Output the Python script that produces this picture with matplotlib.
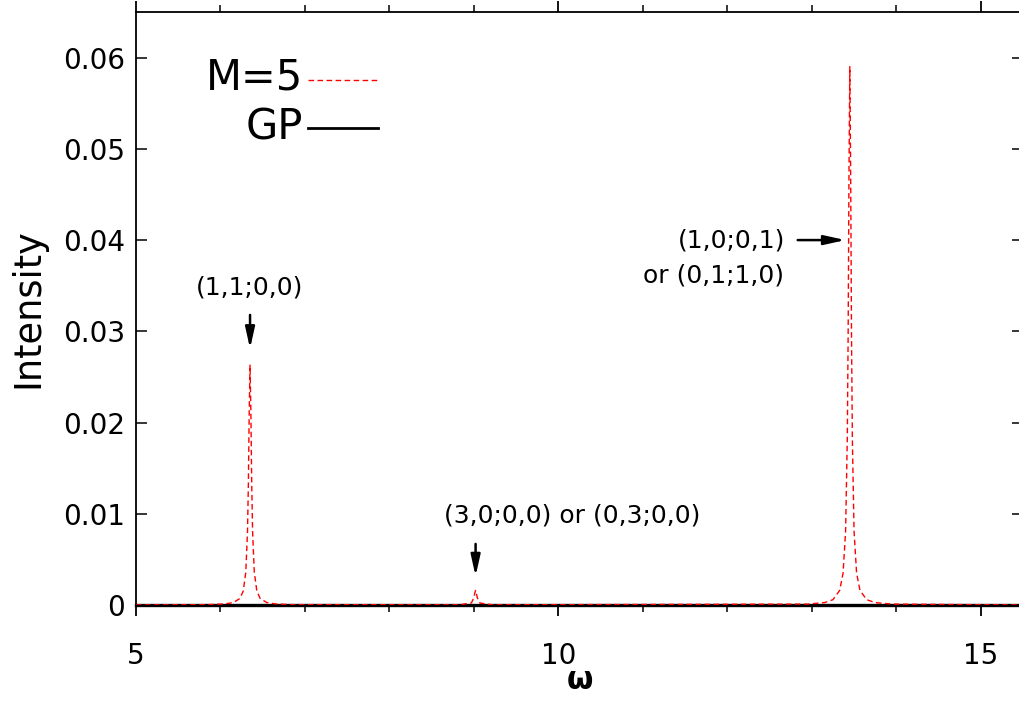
import matplotlib
matplotlib.use('Agg')
import matplotlib.pyplot as plt

# M=5 spectrum, sampled by eye around the three peaks
omega_m5 = [5.0, 5.85, 6.05, 6.15, 6.23, 6.27, 6.30, 6.32, 6.33, 6.34, 6.35,
            6.36, 6.37, 6.38, 6.40, 6.43, 6.47, 6.55, 6.65, 6.85,
            8.82, 8.97, 9.00, 9.01, 9.02, 9.03, 9.04, 9.07, 9.22,
            12.95, 13.15, 13.25, 13.33, 13.37, 13.40, 13.42, 13.43, 13.44, 13.45,
            13.46, 13.47, 13.48, 13.50, 13.53, 13.57, 13.65, 13.75, 13.95, 15.5]
intensity_m5 = [0.0, 0.00004, 0.00012, 0.00026, 0.00071, 0.00155, 0.00363, 0.0081, 0.01315, 0.0210, 0.0263,
                0.0210, 0.01315, 0.0081, 0.00363, 0.00155, 0.00071, 0.00026, 0.00012, 0.00004,
                0.00002, 0.00022, 0.0008, 0.00128, 0.0016, 0.00128, 0.0008, 0.00022, 0.00002,
                0.0001, 0.00026, 0.00058, 0.0016, 0.0035, 0.0081, 0.0182, 0.0295, 0.0472, 0.059,
                0.0472, 0.0295, 0.0182, 0.0081, 0.0035, 0.0016, 0.00058, 0.00026, 0.0001, 0.0]

omega_gp = [5.0, 15.5]
intensity_gp = [0.0, 0.0]

xticks = [5, 10, 15]
yticks = [0, 0.01, 0.02, 0.03, 0.04, 0.05, 0.06]
ytick_labels = ['0', '0.01', '0.02', '0.03', '0.04', '0.05', '0.06']

W, H = 1020, 702
fig = plt.figure(figsize=(W / 100, H / 100), dpi=100)
ax = fig.add_axes([136 / W, (H - 605) / H, (1023 - 136) / W, (605 - 12) / H])

ax.plot(omega_gp, intensity_gp, color='black', lw=2.4, zorder=2, clip_on=False)
ax.plot(omega_m5, intensity_m5, color='red', lw=1.0, dashes=(4, 2.5), zorder=3)

ax.set_xlim(5, 15.5)
ax.set_ylim(0, 0.065)
ax.set_xticks(xticks)
ax.set_xticks(range(6, 16), minor=True)
ax.set_yticks(yticks)
ax.set_yticklabels(ytick_labels)
ax.tick_params(axis='x', which='both', direction='out', top=True, labelsize=20, pad=19)
ax.tick_params(axis='x', which='major', length=8, width=1.3)
ax.tick_params(axis='x', which='minor', length=5, width=1.1)
ax.tick_params(axis='y', direction='in', right=True, labelsize=20, length=8, width=1.1, pad=8)
for s in ax.spines.values():
    s.set_linewidth(1.3)

ax.set_xlabel('ω', fontsize=22, fontweight='bold', labelpad=-3)
ax.set_ylabel('Intensity', fontsize=26.5, labelpad=12)

# annotations
arrow = dict(arrowstyle='-|>,head_length=0.9,head_width=0.2', color='black', lw=1.8, mutation_scale=14)
ax.annotate('', xy=(6.35, 0.0278), xytext=(6.35, 0.0321), arrowprops=arrow)
ax.text(6.35, 0.0348, '(1,1;0,0)', ha='center', va='center', fontsize=18)
ax.annotate('', xy=(9.02, 0.00285), xytext=(9.02, 0.0070), arrowprops=arrow)
ax.text(10.16, 0.00976, '(3,0;0,0) or (0,3;0,0)', ha='center', va='center', fontsize=18)
ax.annotate('', xy=(13.43, 0.0400), xytext=(12.80, 0.0400), arrowprops=arrow)
ax.text(12.69, 0.0400, '(1,0;0,1)', ha='right', va='center', fontsize=18)
ax.text(12.67, 0.0361, 'or (0,1;1,0)', ha='right', va='center', fontsize=18)

# key in the upper left
fig.text(303 / W, 1 - 78 / H, 'M=5', ha='right', va='center', fontsize=30)
fig.text(303 / W, 1 - 128 / H, 'GP', ha='right', va='center', fontsize=30)
fig.add_artist(plt.Line2D([308 / W, 378 / W], [1 - 80 / H, 1 - 80 / H], color='red', lw=1.0, dashes=(4, 2.5)))
fig.add_artist(plt.Line2D([308 / W, 378 / W], [1 - 128 / H, 1 - 128 / H], color='black', lw=2.0))

fig.savefig('out.png', dpi=100)
